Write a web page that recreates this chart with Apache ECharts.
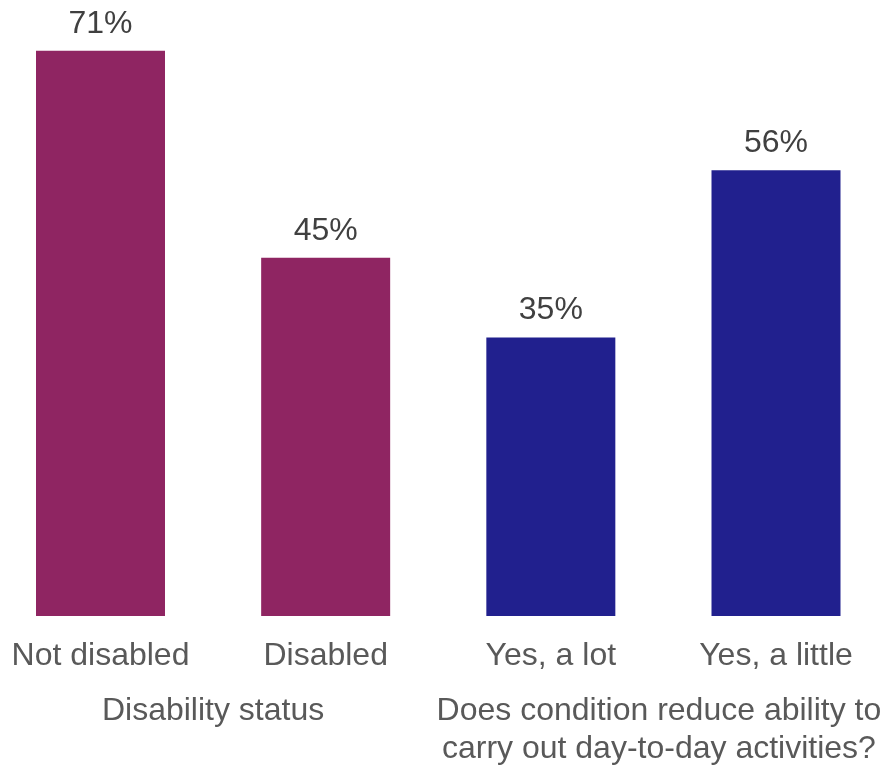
<!DOCTYPE html>
<html>
<head>
<meta charset="utf-8">
<script src="https://cdn.jsdelivr.net/npm/echarts@6/dist/echarts.min.js"></script>
<style>
html,body{margin:0;padding:0;background:#fff;}
#chart{width:884px;height:765px;}
</style>
</head>
<body>
<div id="chart"></div>
<script>
const categories = ['Not disabled', 'Disabled', 'Yes, a lot', 'Yes, a little'];
const values = [71, 45, 35, 56];
const groupOfCategory = [0, 0, 1, 1];
const groupLabels = ['Disability status', 'Does condition reduce ability to\ncarry out day-to-day activities?'];

const groupColors = ['#8f2562', '#21208e'];
const FONT = '"Liberation Sans", Arial, sans-serif';

const chart = echarts.init(document.getElementById('chart'), null, {renderer: 'canvas'});
chart.setOption({
  animation: false,
  backgroundColor: '#ffffff',
  grid: {left: 100.5, right: 108, top: 19, bottom: 149, containLabel: false},
  xAxis: {
    type: 'category',
    boundaryGap: false,
    data: categories,
    axisLine: {show: false},
    axisTick: {show: false},
    splitLine: {show: false},
    axisLabel: {
      interval: 0,
      margin: 24,
      color: '#595959',
      fontFamily: FONT,
      fontSize: 32
    }
  },
  yAxis: {
    type: 'value',
    min: 0,
    max: 75,
    show: false,
    splitLine: {show: false}
  },
  series: [{
    type: 'bar',
    barWidth: 129,
    data: values.map((v, i) => ({value: v, itemStyle: {color: groupColors[groupOfCategory[i]]}})),
    label: {
      show: true,
      position: 'top',
      distance: 11,
      color: '#404040',
      fontFamily: FONT,
      fontSize: 32,
      formatter: p => p.value + '%'
    }
  }]
});

// Group labels centred between the category positions of each group
const groupShift = [0, -4.5];
const graphics = groupLabels.map((txt, g) => {
  const idx = groupOfCategory.map((gg, i) => gg === g ? i : -1).filter(i => i >= 0);
  const xs = idx.map(i => chart.convertToPixel({xAxisIndex: 0}, categories[i]));
  const cx = (Math.min(...xs) + Math.max(...xs)) / 2 + groupShift[g];
  return {
    type: 'text',
    x: cx,
    y: 692.5,
    style: {
      text: txt,
      fill: '#595959',
      font: '32px ' + FONT,
      lineHeight: 38,
      align: 'center',
      verticalAlign: 'top'
    }
  };
});
chart.setOption({graphic: graphics});
</script>
</body>
</html>
